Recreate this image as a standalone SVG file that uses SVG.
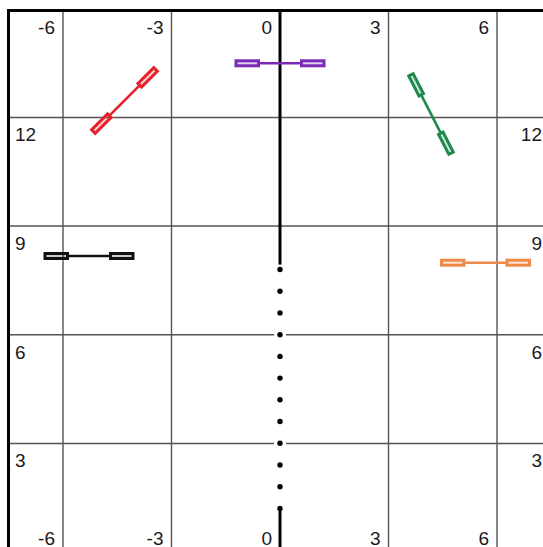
<svg xmlns="http://www.w3.org/2000/svg" xmlns:xlink="http://www.w3.org/1999/xlink" width="543" height="547" viewBox="0 0 543 547">
<style>
.grid{stroke:#555;stroke-width:1.4;fill:none}
.border{stroke:#000;stroke-width:3;fill:none}
.lbl{font-family:"Liberation Sans",Arial,sans-serif;font-size:19px;fill:#1a1a1a}
.r{text-anchor:end}
.axis{stroke:#000;stroke-width:3}
.halo{fill:#fff}
.dot{fill:#000}
.db-line{stroke:currentColor;stroke-width:2.6}
.db-rect{stroke:currentColor;stroke-width:3;fill:currentColor;fill-opacity:0.22}
</style>
<defs>
<g id="dumbbell">
<line class="db-line" x1="-21" y1="0" x2="21" y2="0"/>
<rect class="db-rect" x="-44" y="-2.5" width="22.5" height="5"/>
<rect class="db-rect" x="21.5" y="-2.5" width="22.5" height="5"/>
</g>
</defs>
<rect x="0" y="0" width="543" height="547" fill="#fff"/>
<g id="grid">
<line class="grid" x1="63" y1="10" x2="63" y2="547"/>
<line class="grid" x1="171.5" y1="10" x2="171.5" y2="547"/>
<line class="grid" x1="388.5" y1="10" x2="388.5" y2="547"/>
<line class="grid" x1="497" y1="10" x2="497" y2="547"/>
<line class="grid" x1="8" y1="117.5" x2="543" y2="117.5"/>
<line class="grid" x1="8" y1="226" x2="543" y2="226"/>
<line class="grid" x1="8" y1="334.8" x2="543" y2="334.8"/>
<line class="grid" x1="8" y1="443.5" x2="543" y2="443.5"/>
<line class="border" x1="8.5" y1="9" x2="8.5" y2="547"/>
<line class="border" x1="7" y1="10.5" x2="543" y2="10.5"/>
</g>
<g id="labels">
<text class="lbl r" x="55" y="33.5">-6</text>
<text class="lbl r" x="163.5" y="33.5">-3</text>
<text class="lbl r" x="272" y="33.5">0</text>
<text class="lbl r" x="380.5" y="33.5">3</text>
<text class="lbl r" x="489" y="33.5">6</text>
<text class="lbl r" x="55" y="545">-6</text>
<text class="lbl r" x="163.5" y="545">-3</text>
<text class="lbl r" x="272" y="545">0</text>
<text class="lbl r" x="380.5" y="545">3</text>
<text class="lbl r" x="489" y="545">6</text>
<text class="lbl" x="15" y="141">12</text>
<text class="lbl" x="15" y="250">9</text>
<text class="lbl" x="15" y="358.5">6</text>
<text class="lbl" x="15" y="467">3</text>
<text class="lbl r" x="542" y="141">12</text>
<text class="lbl r" x="542" y="250">9</text>
<text class="lbl r" x="542" y="358.5">6</text>
<text class="lbl r" x="542" y="467">3</text>
</g>
<g id="connectors">
<line class="axis" x1="280" y1="9" x2="280" y2="269.5"/>
<line class="axis" x1="280" y1="508.5" x2="280" y2="547"/>
<g id="dots">
<circle class="halo" cx="280" cy="269.5" r="5"/><circle class="dot" cx="280" cy="269.5" r="2.7"/>
<circle class="halo" cx="280" cy="291.2" r="5"/><circle class="dot" cx="280" cy="291.2" r="2.7"/>
<circle class="halo" cx="280" cy="312.9" r="5"/><circle class="dot" cx="280" cy="312.9" r="2.7"/>
<circle class="halo" cx="280" cy="334.7" r="6"/><circle class="dot" cx="280" cy="334.7" r="2.7"/>
<circle class="halo" cx="280" cy="356.4" r="5"/><circle class="dot" cx="280" cy="356.4" r="2.7"/>
<circle class="halo" cx="280" cy="378.1" r="5"/><circle class="dot" cx="280" cy="378.1" r="2.7"/>
<circle class="halo" cx="280" cy="399.8" r="5"/><circle class="dot" cx="280" cy="399.8" r="2.7"/>
<circle class="halo" cx="280" cy="421.5" r="5"/><circle class="dot" cx="280" cy="421.5" r="2.7"/>
<circle class="halo" cx="280" cy="443.3" r="6"/><circle class="dot" cx="280" cy="443.3" r="2.7"/>
<circle class="halo" cx="280" cy="465" r="5"/><circle class="dot" cx="280" cy="465" r="2.7"/>
<circle class="halo" cx="280" cy="486.7" r="5"/><circle class="dot" cx="280" cy="486.7" r="2.7"/>
<circle class="dot" cx="280" cy="508.4" r="2.7"/>
</g>
</g>
<g id="node-red" transform="translate(124.5,100.5) rotate(-45)" color="#e8202a"><use xlink:href="#dumbbell" href="#dumbbell"/></g>
<g id="node-purple" transform="translate(280,63.3)" color="#7a2bb8"><use xlink:href="#dumbbell" href="#dumbbell"/></g>
<g id="node-green" transform="translate(431,114) rotate(62.9)" color="#1e8a4c"><use xlink:href="#dumbbell" href="#dumbbell"/></g>
<g id="node-black" transform="translate(89,256)" color="#111111"><use xlink:href="#dumbbell" href="#dumbbell"/></g>
<g id="node-orange" transform="translate(485.5,262.7)" color="#f08a4b"><use xlink:href="#dumbbell" href="#dumbbell"/></g>
</svg>
